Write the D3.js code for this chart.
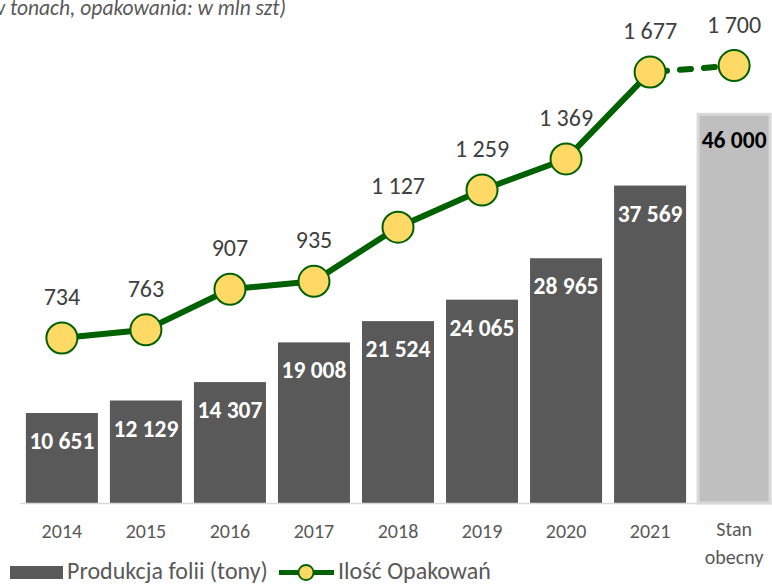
<!DOCTYPE html>
<html><head><meta charset="utf-8">
<script src="https://cdn.jsdelivr.net/npm/d3@7"></script>
<style>body{margin:0;background:#fff}svg{display:block;font-family:Carlito,Lato,sans-serif}</style>
</head><body><svg id="c" width="772" height="584"></svg>
<script>
const categories = ["2014","2015","2016","2017","2018","2019","2020","2021","Stan obecny"];
const production = [10651,12129,14307,19008,21524,24065,28965,37569,46000];
const packages = [734,763,907,935,1127,1259,1369,1677,1700];
const fmt = v => d3.format(",")(v).replace(/,/g," ");

const svg = d3.select("#c");
const x = d3.scaleBand().domain(categories).range([20,776]).paddingInner(0.143).paddingOuter(0.07);
const y = d3.scaleLinear().domain([0,50000]).range([503,80.5]);
const y2 = d3.scaleLinear().domain([0,1800]).range([545,37.4]);

// title fragment
svg.append("text").attr("x",286).attr("y",15).attr("text-anchor","end").attr("font-size",21.5).attr("font-style","italic")
  .attr("fill","#595959").text("(w tonach, opakowania: w mln szt)");

// bars
svg.selectAll("rect.bar").data(production).join("rect")
  .attr("x",(d,i)=>x(categories[i])).attr("width",x.bandwidth())
  .attr("y",d=>y(d)).attr("height",d=>y(0)-y(d))
  .attr("fill",(d,i)=>i===8?"#bfbfbf":"#595959")
  .attr("stroke",(d,i)=>i===8?"#d9d9d9":"none").attr("stroke-width",3);

// axis line
svg.append("line").attr("x1",20).attr("x2",772).attr("y1",503.5).attr("y2",503.5).attr("stroke","#d9d9d9").attr("stroke-width",1.5);

// bar labels
svg.selectAll("text.bl").data(production).join("text")
  .attr("x",(d,i)=>x(categories[i])+x.bandwidth()/2).attr("y",(d,i)=>y(d)+(i===8?34:36))
  .attr("text-anchor","middle").attr("font-size",23.5).attr("font-weight","bold")
  .attr("fill",(d,i)=>i===8?"#000":"#fff").text(d=>fmt(d));

// x labels
const xa = svg.append("g");
categories.forEach((c,i)=>{
  const cxv = x(c)+x.bandwidth()/2;
  const t = xa.append("text").attr("x",cxv).attr("y",c==="Stan obecny"?536:538).attr("text-anchor","middle")
    .attr("font-size",20).attr("fill","#595959");
  if(c==="Stan obecny"){
    t.append("tspan").attr("x",cxv).text("Stan");
    t.append("tspan").attr("x",cxv).attr("dy",28).text("obecny");
  } else t.text(c);
});

// line
const cx = i => x(categories[i])+x.bandwidth()/2;
const line = d3.line().x((d,i)=>cx(i)).y(d=>y2(d));
svg.append("path").datum(packages.slice(0,8)).attr("d",line).attr("fill","none")
  .attr("stroke","#006100").attr("stroke-width",6).attr("stroke-linejoin","round");
svg.append("path").datum(packages.slice(7)).attr("d",d3.line().x((d,i)=>cx(i+7)).y(d=>y2(d)))
  .attr("fill","none").attr("stroke","#006100").attr("stroke-width",6).attr("stroke-dasharray","11,13").attr("stroke-dashoffset",-6).attr("stroke-linecap","round");
svg.selectAll("circle.m").data(packages).join("circle")
  .attr("cx",(d,i)=>cx(i)).attr("cy",d=>y2(d)).attr("r",15.5)
  .attr("fill","#ffd966").attr("stroke","#006100").attr("stroke-width",2);
svg.selectAll("text.ll").data(packages).join("text")
  .attr("x",(d,i)=>cx(i)).attr("y",d=>y2(d)-33).attr("text-anchor","middle")
  .attr("font-size",24).attr("fill","#404040").text(d=>fmt(d));

// legend
const lg = svg.append("g");
lg.append("rect").attr("x",10).attr("y",566).attr("width",53).attr("height",13).attr("fill","#595959");
lg.append("text").attr("x",67).attr("y",579).attr("font-size",24).attr("fill","#595959").text("Produkcja folii (tony)");
lg.append("line").attr("x1",279).attr("x2",334).attr("y1",572.5).attr("y2",572.5).attr("stroke","#006100").attr("stroke-width",5);
lg.append("circle").attr("cx",306).attr("cy",572.5).attr("r",7.5).attr("fill","#ffd966").attr("stroke","#006100").attr("stroke-width",1.8);
lg.append("text").attr("x",338).attr("y",579).attr("font-size",24).attr("fill","#595959").text("Ilość Opakowań");
</script></body></html>
